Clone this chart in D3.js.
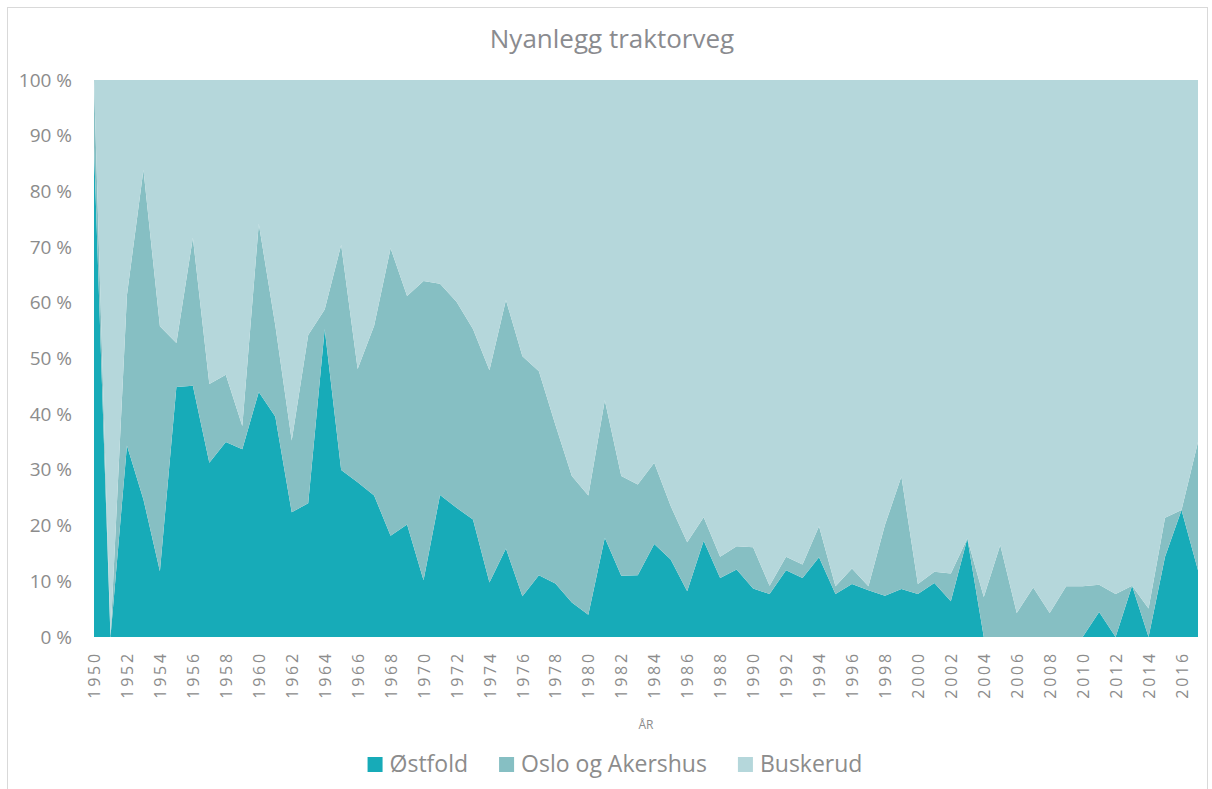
<!DOCTYPE html>
<html lang="no">
<head>
<meta charset="utf-8">
<title>Nyanlegg traktorveg</title>
<script src="https://d3js.org/d3.v7.min.js"></script>
<style>
  body { margin: 0; background: #fff; font-family: "Open Sans", sans-serif; }
  .tick text { fill: #8c8c8c; }
</style>
</head>
<body>
<script>
// data, share in percent per year
var years = d3.range(1950, 2018);
var ostfold = [88, 0, 34.4, 24.7, 11.8, 44.9, 45.1, 31.3, 35.0, 33.7, 44.0, 39.6, 22.4, 24.0, 55.3, 30.0, 27.8, 25.4, 18.2, 20.2,
  10.2, 25.5, 23.2, 21.1, 9.8, 15.9, 7.3, 11.1, 9.6, 6.2, 4.0, 17.8, 11.0, 11.1, 16.7, 13.9, 8.2, 17.3, 10.6, 12.1,
  8.7, 7.7, 12.0, 10.6, 14.3, 7.7, 9.5, 8.4, 7.4, 8.6, 7.7, 9.7, 6.4, 17.7, 0, 0, 0, 0, 0, 0,
  0, 4.5, 0, 9.2, 0, 14.4, 22.8, 12.0];
var osloAkershus = [12, 0, 27.0, 59.2, 44.0, 7.9, 26.6, 14.1, 12.1, 4.2, 30.2, 16.4, 12.9, 30.2, 3.5, 40.4, 20.3, 30.5, 51.6, 41.0,
  53.7, 37.9, 37.0, 34.2, 38.1, 44.6, 43.1, 36.6, 28.5, 22.7, 21.4, 24.7, 17.9, 16.3, 14.6, 9.6, 8.8, 4.2, 3.8, 4.2,
  7.4, 1.5, 2.4, 2.4, 5.6, 1.4, 2.8, 0.7, 12.7, 20.2, 1.8, 2.0, 5.0, 0, 7.2, 16.5, 4.3, 8.9, 4.3, 9.1,
  9.1, 4.9, 7.7, 0, 5.1, 7.0, 0, 23.0];
var buskerud = [0, 100, 38.6, 16.1, 44.2, 47.2, 28.3, 54.6, 52.9, 62.1, 25.8, 44.0, 64.7, 45.8, 41.2, 29.6, 51.9, 44.1, 30.2, 38.8,
  36.1, 36.6, 39.8, 44.7, 52.1, 39.5, 49.6, 52.3, 61.9, 71.1, 74.6, 57.5, 71.1, 72.6, 68.7, 76.5, 83.0, 78.5, 85.6, 83.7,
  83.9, 90.8, 85.6, 87.0, 80.1, 90.9, 87.7, 90.9, 79.9, 71.2, 90.5, 88.3, 88.6, 82.3, 92.8, 83.5, 95.7, 91.1, 95.7, 90.9,
  90.9, 90.6, 92.3, 90.8, 94.9, 78.6, 77.2, 65.0];
var seriesNames = ["Østfold", "Oslo og Akershus", "Buskerud"];
var colors = ["#17abb8", "#86bfc3", "#b5d7db"];
var yTicks = [0, 10, 20, 30, 40, 50, 60, 70, 80, 90, 100];
var xTicks = d3.range(1950, 2017, 2);

var W = 1212, H = 789;
var margin = {top: 80, right: 14, bottom: 152, left: 94};
var width = W - margin.left - margin.right,
    height = H - margin.top - margin.bottom;

var svg = d3.select("body").append("svg")
    .attr("width", W)
    .attr("height", H);

// chart frame
svg.append("rect")
    .attr("x", 7.5).attr("y", 7.5)
    .attr("width", 1200).attr("height", 800)
    .attr("fill", "none")
    .attr("stroke", "#d9d9d9");

svg.append("text")
    .attr("x", 612)
    .attr("y", 48)
    .attr("text-anchor", "middle")
    .attr("font-size", "26px")
    .attr("fill", "#8a8b8f")
    .text("Nyanlegg traktorveg");

var g = svg.append("g")
    .attr("transform", "translate(" + margin.left + "," + margin.top + ")");

var x = d3.scaleLinear().domain([1950, 2017]).range([0, width]);
var y = d3.scaleLinear().domain([0, 100]).range([height, 0]);

var table = years.map(function(yr, i) {
  return {year: yr, "Østfold": ostfold[i], "Oslo og Akershus": osloAkershus[i], "Buskerud": buskerud[i]};
});

var stack = d3.stack().keys(seriesNames).offset(d3.stackOffsetExpand);
var layers = stack(table);

var area = d3.area()
    .x(function(d) { return x(d.data.year); })
    .y0(function(d) { return y(d[0] * 100); })
    .y1(function(d) { return y(d[1] * 100); });

g.selectAll(".layer")
    .data(layers)
    .enter().append("path")
    .attr("class", "layer")
    .attr("fill", function(d, i) { return colors[i]; })
    .attr("d", area);

// y axis
var yAxis = g.append("g")
    .call(d3.axisLeft(y).tickValues(yTicks).tickSize(0).tickPadding(22)
      .tickFormat(function(d) { return d + " %"; }));
yAxis.select(".domain").remove();
yAxis.selectAll("text")
    .attr("font-family", "Open Sans")
    .attr("font-size", "19px");

// x axis
var xAxis = g.append("g")
    .attr("transform", "translate(0," + height + ")")
    .call(d3.axisBottom(x).tickValues(xTicks).tickSize(0).tickFormat(d3.format("d")));
xAxis.select(".domain").remove();
xAxis.selectAll("text")
    .attr("font-family", "Open Sans")
    .attr("font-size", "16px")
    .attr("letter-spacing", "2.8px")
    .attr("text-anchor", "end")
    .attr("transform", "rotate(-90)")
    .attr("x", -14)
    .attr("y", 0)
    .attr("dy", "0.35em");

svg.append("text")
    .attr("x", margin.left + width / 2)
    .attr("y", 729)
    .attr("text-anchor", "middle")
    .attr("font-size", "12px")
    .attr("fill", "#8c8c8c")
    .text("ÅR");

// legend
var legend = svg.append("g");
var lx = 0;
seriesNames.forEach(function(name, i) {
  var item = legend.append("g").attr("transform", "translate(" + lx + ",0)");
  item.append("rect")
      .attr("x", 0).attr("y", -15)
      .attr("width", 15).attr("height", 15)
      .attr("fill", colors[i]);
  var t = item.append("text")
      .attr("x", 22)
      .attr("y", 0)
      .attr("font-size", "23px")
      .attr("fill", "#8c8c8c")
      .text(name);
  lx += 22 + t.node().getComputedTextLength() + 31;
});
var lw = lx - 31;
legend.attr("transform", "translate(" + (615 - lw / 2) + ",772)");
</script>
</body>
</html>
